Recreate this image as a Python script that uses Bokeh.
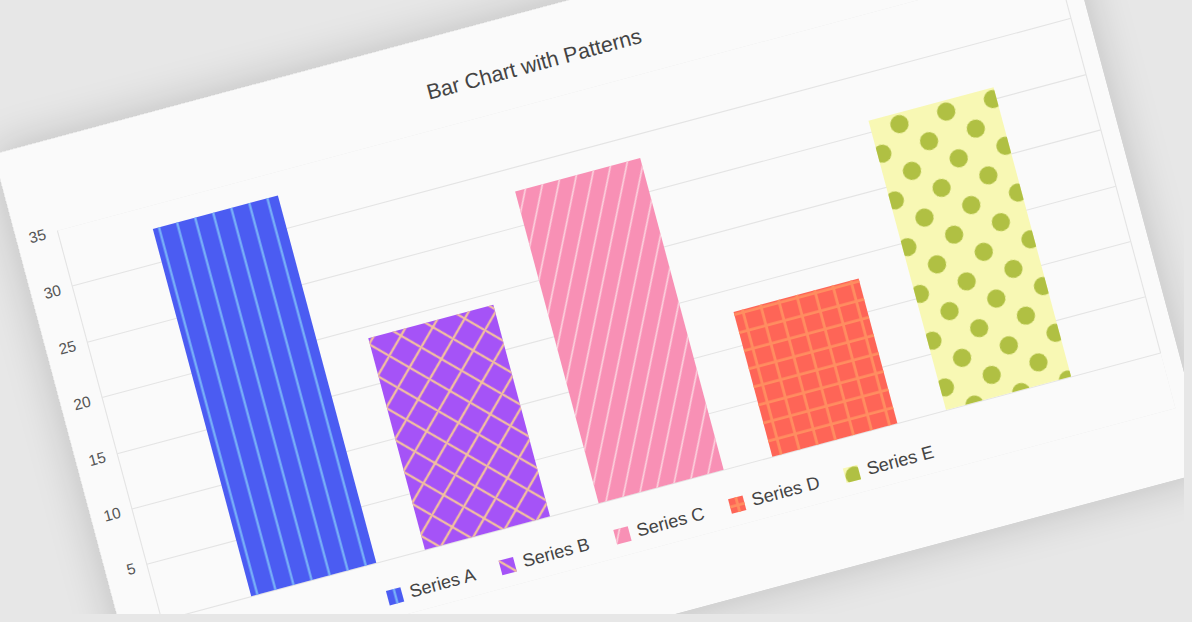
import base64

from bokeh.plotting import figure
from bokeh.layouts import column
from bokeh.models import (ColumnDataSource, FactorRange, Range1d, FixedTicker, LinearAxis,
                          Legend, LegendItem, ImageURLTexture)
from bokeh.embed import file_html
from bokeh.resources import INLINE

series = ["Series A", "Series B", "Series C", "Series D", "Series E"]
values = [33, 19, 28, 13, 26]
fill_colors = ["#4b5cf2", "#a553f7", "#f890b5", "#fe6557", "#f8f8b4"]
hatch_patterns = ["|", "x", "/", "+", "dots"]
hatch_colors = ["#7ab6f8", "#f4c29c", "#fcd2de", "#ff8d60", "#b0c043"]
y_ticks = [0, 5, 10, 15, 20, 25, 30, 35]

FONT = "Liberation Sans"
GRID = "#e4e4e4"

# the whole card is tilted like the reference; only the inner canvas is
# transformed so that bokeh's own layout measuring is left alone
TILT_CSS = """
:host { overflow: visible !important; }
.bk-Canvas {
  transform-origin: 0 0;
  transform: translate(-7px, 154px) rotate(-15deg) scale(1.1);
  box-shadow: 0 0 40px rgba(0, 0, 0, 0.18);
}
"""


def dots_texture(color):
    # staggered polka dots for the last series
    svg = ('<svg xmlns="http://www.w3.org/2000/svg" width="44" height="44">'
           '<circle cx="11" cy="11" r="8.3" fill="%s"/>'
           '<circle cx="33" cy="33" r="8.3" fill="%s"/></svg>') % (color, color)
    url = "data:image/svg+xml;base64," + base64.b64encode(svg.encode()).decode()
    return ImageURLTexture(url=url, repetition="repeat")


source = ColumnDataSource(data=dict(
    series=series,
    value=values,
    fill=fill_colors,
    hatch=hatch_patterns,
    hcolor=hatch_colors,
    hscale=[17, 30, 32, 17, 16],
    hweight=[2, 2, 1.5, 2.5, 1],
))

# a little room under zero keeps the legend inside the frame
p = figure(x_range=FactorRange(*series, range_padding=0.15), y_range=Range1d(-5, 35),
           width=994, height=564, x_axis_location=None,
           min_border_left=38, min_border_right=16, min_border_top=82, min_border_bottom=63,
           output_backend="svg", toolbar_location=None, tools="",
           background_fill_color="#fafafa", border_fill_color="#fafafa",
           outline_line_color=None, stylesheets=[TILT_CSS])

# centred on the whole card, not on the plot area
p.title.text = "Bar Chart with Patterns"
p.title.align = "left"
p.title.offset = 357
p.title.text_font = FONT
p.title.text_font_size = "19.5px"
p.title.text_font_style = "normal"
p.title.text_color = "#444444"
p.title.standoff = 47

bars = p.vbar(x="series", top="value", width=0.72, source=source,
              fill_color="fill", line_color=None,
              hatch_pattern="hatch", hatch_color="hcolor", hatch_scale="hscale",
              hatch_weight="hweight", hatch_extra={"dots": dots_texture(hatch_colors[4])})

p.yaxis.ticker = FixedTicker(ticks=y_ticks)
p.yaxis.bounds = (0, 35)
p.yaxis.axis_line_color = GRID
p.yaxis.major_tick_line_color = None
p.yaxis.minor_tick_line_color = None
p.yaxis.major_label_standoff = 5
p.yaxis.major_label_text_font = FONT
p.yaxis.major_label_text_font_size = "14px"
p.yaxis.major_label_text_color = "#555555"
p.ygrid.ticker = FixedTicker(ticks=y_ticks)
p.ygrid.grid_line_color = GRID
p.xgrid.visible = False

# plain border line on the right side of the plot area
right = LinearAxis(ticker=FixedTicker(ticks=[]), bounds=(0, 35), axis_line_color=GRID,
                   major_tick_line_color=None, minor_tick_line_color=None,
                   major_label_text_font_size="0px")
p.add_layout(right, "right")

items = [LegendItem(label=s, renderers=[bars], index=i) for i, s in enumerate(series)]
legend = Legend(items=items, orientation="horizontal", location=(202, 9.5),
                glyph_width=17, glyph_height=17, label_standoff=6, spacing=22,
                padding=10, margin=0, border_line_color=None, background_fill_alpha=0,
                label_text_font=FONT, label_text_font_size="16.5px", label_text_color="#444444")
p.add_layout(legend)

page = column(p, width=1184, height=614,
              styles={"background-color": "#e7e7e7", "outline": "8px solid #e7e7e7",
                      "overflow": "hidden"})

open("out.html", "w").write(file_html(page, INLINE))
